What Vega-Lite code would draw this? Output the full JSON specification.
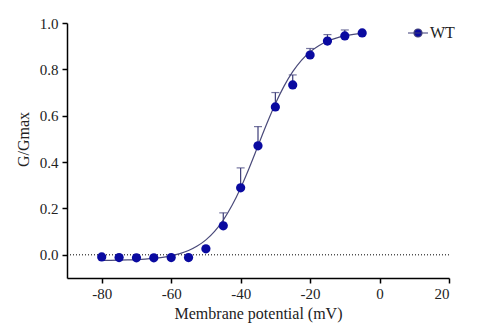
{
  "$schema": "https://vega.github.io/schema/vega-lite/v6.json",
  "width": 382,
  "height": 255,
  "autosize": "none",
  "padding": {"left": 67, "top": 23, "right": 49, "bottom": 51},
  "background": "white",
  "config": {
    "view": {"stroke": null},
    "font": "Liberation Serif",
    "axis": {
      "grid": false,
      "domainColor": "black",
      "domainWidth": 1.5,
      "tickColor": "black",
      "tickWidth": 1.5,
      "tickSize": 5,
      "labelFont": "Liberation Serif",
      "labelFontSize": 15,
      "labelColor": "#222222",
      "titleFont": "Liberation Serif",
      "titleFontSize": 16,
      "titleFontWeight": "normal",
      "titleColor": "#222222"
    }
  },
  "datasets": {
    "pts": [
      {"V": -80, "G": -0.009},
      {"V": -75, "G": -0.012},
      {"V": -70, "G": -0.013},
      {"V": -65, "G": -0.013},
      {"V": -60, "G": -0.012},
      {"V": -55, "G": -0.012},
      {"V": -50, "G": 0.026},
      {"V": -45, "G": 0.125, "up": 0.181},
      {"V": -40, "G": 0.289, "up": 0.375},
      {"V": -35, "G": 0.47, "up": 0.553},
      {"V": -30, "G": 0.638, "up": 0.70},
      {"V": -25, "G": 0.733, "up": 0.776},
      {"V": -20, "G": 0.862, "up": 0.89},
      {"V": -15, "G": 0.922, "up": 0.95},
      {"V": -10, "G": 0.944, "up": 0.97},
      {"V": -5, "G": 0.957}
    ],
    "fit": [
      {"V": -80, "G": -0.024},
      {"V": -77.5, "G": -0.0236},
      {"V": -75, "G": -0.0229},
      {"V": -72.5, "G": -0.0219},
      {"V": -70, "G": -0.0205},
      {"V": -67.5, "G": -0.0184},
      {"V": -65, "G": -0.0153},
      {"V": -62.5, "G": -0.0108},
      {"V": -60, "G": -0.0043},
      {"V": -57.5, "G": 0.0051},
      {"V": -55, "G": 0.0186},
      {"V": -52.5, "G": 0.0378},
      {"V": -50, "G": 0.0646},
      {"V": -47.5, "G": 0.1013},
      {"V": -45, "G": 0.150},
      {"V": -42.5, "G": 0.2124},
      {"V": -40, "G": 0.2885},
      {"V": -37.5, "G": 0.376},
      {"V": -35, "G": 0.47},
      {"V": -32.5, "G": 0.564},
      {"V": -30, "G": 0.6515},
      {"V": -27.5, "G": 0.7276},
      {"V": -25, "G": 0.790},
      {"V": -22.5, "G": 0.8387},
      {"V": -20, "G": 0.8754},
      {"V": -17.5, "G": 0.9022},
      {"V": -15, "G": 0.9214},
      {"V": -12.5, "G": 0.9349},
      {"V": -10, "G": 0.9443},
      {"V": -7.5, "G": 0.9508},
      {"V": -5, "G": 0.9553}
    ],
    "zero": [{"z": 0}]
  },
  "layer": [
    {
      "data": {"name": "zero"},
      "mark": {"type": "rule", "strokeDash": [1, 2], "color": "#000000", "strokeWidth": 1},
      "encoding": {"y": {"field": "z", "type": "quantitative"}}
    },
    {
      "data": {"name": "fit"},
      "mark": {"type": "line", "color": "#4a4a7a", "strokeWidth": 1.2, "interpolate": "monotone"},
      "encoding": {
        "x": {"field": "V", "type": "quantitative"},
        "y": {"field": "G", "type": "quantitative"}
      }
    },
    {
      "data": {"name": "pts"},
      "transform": [{"filter": "isValid(datum.up)"}],
      "mark": {"type": "rule", "color": "#3c3c78", "strokeWidth": 1.2},
      "encoding": {
        "x": {"field": "V", "type": "quantitative"},
        "y": {"field": "G", "type": "quantitative"},
        "y2": {"field": "up"}
      }
    },
    {
      "data": {"name": "pts"},
      "transform": [{"filter": "isValid(datum.up)"}],
      "mark": {"type": "tick", "orient": "horizontal", "color": "#3c3c78", "size": 8, "thickness": 1.2},
      "encoding": {
        "x": {"field": "V", "type": "quantitative"},
        "y": {"field": "up", "type": "quantitative"}
      }
    },
    {
      "data": {"name": "pts"},
      "mark": {"type": "point", "filled": true, "opacity": 1, "size": 85, "shape": "circle"},
      "encoding": {
        "x": {
          "field": "V", "type": "quantitative",
          "scale": {"domain": [-90, 20], "nice": false},
          "axis": {"values": [-80, -60, -40, -20, 0, 20], "labelExpr": "toString(datum.value)", "labelFont": "Liberation Serif", "title": "Membrane potential (mV)", "titlePadding": 4, "labelPadding": 3}
        },
        "y": {
          "field": "G", "type": "quantitative",
          "scale": {"domain": [-0.1, 1.0], "nice": false},
          "axis": {"values": [0, 0.2, 0.4, 0.6, 0.8, 1.0], "format": ".1f", "labelFont": "Liberation Serif", "title": "G/Gmax", "titlePadding": 8, "labelPadding": 4, "titleY": 116}
        },
        "color": {
          "datum": "WT",
          "scale": {"domain": ["WT"], "range": ["#0a0aa0"]},
          "legend": {
            "title": null,
            "orient": "none",
            "legendX": 340,
            "legendY": -1,
            "padding": 0,
            "symbolType": "M-1,0H1M-0.4,0A0.4,0.4,0,1,1,0.4,0A0.4,0.4,0,1,1,-0.4,0Z",
            "symbolSize": 400,
            "symbolFillColor": "#3a3aa8",
            "symbolStrokeColor": "#3c3c78",
            "symbolStrokeWidth": 1.2,
            "labelFont": "Liberation Serif",
            "labelFontSize": 16,
            "labelColor": "#222222",
            "labelOffset": 1
          }
        }
      }
    }
  ]
}
